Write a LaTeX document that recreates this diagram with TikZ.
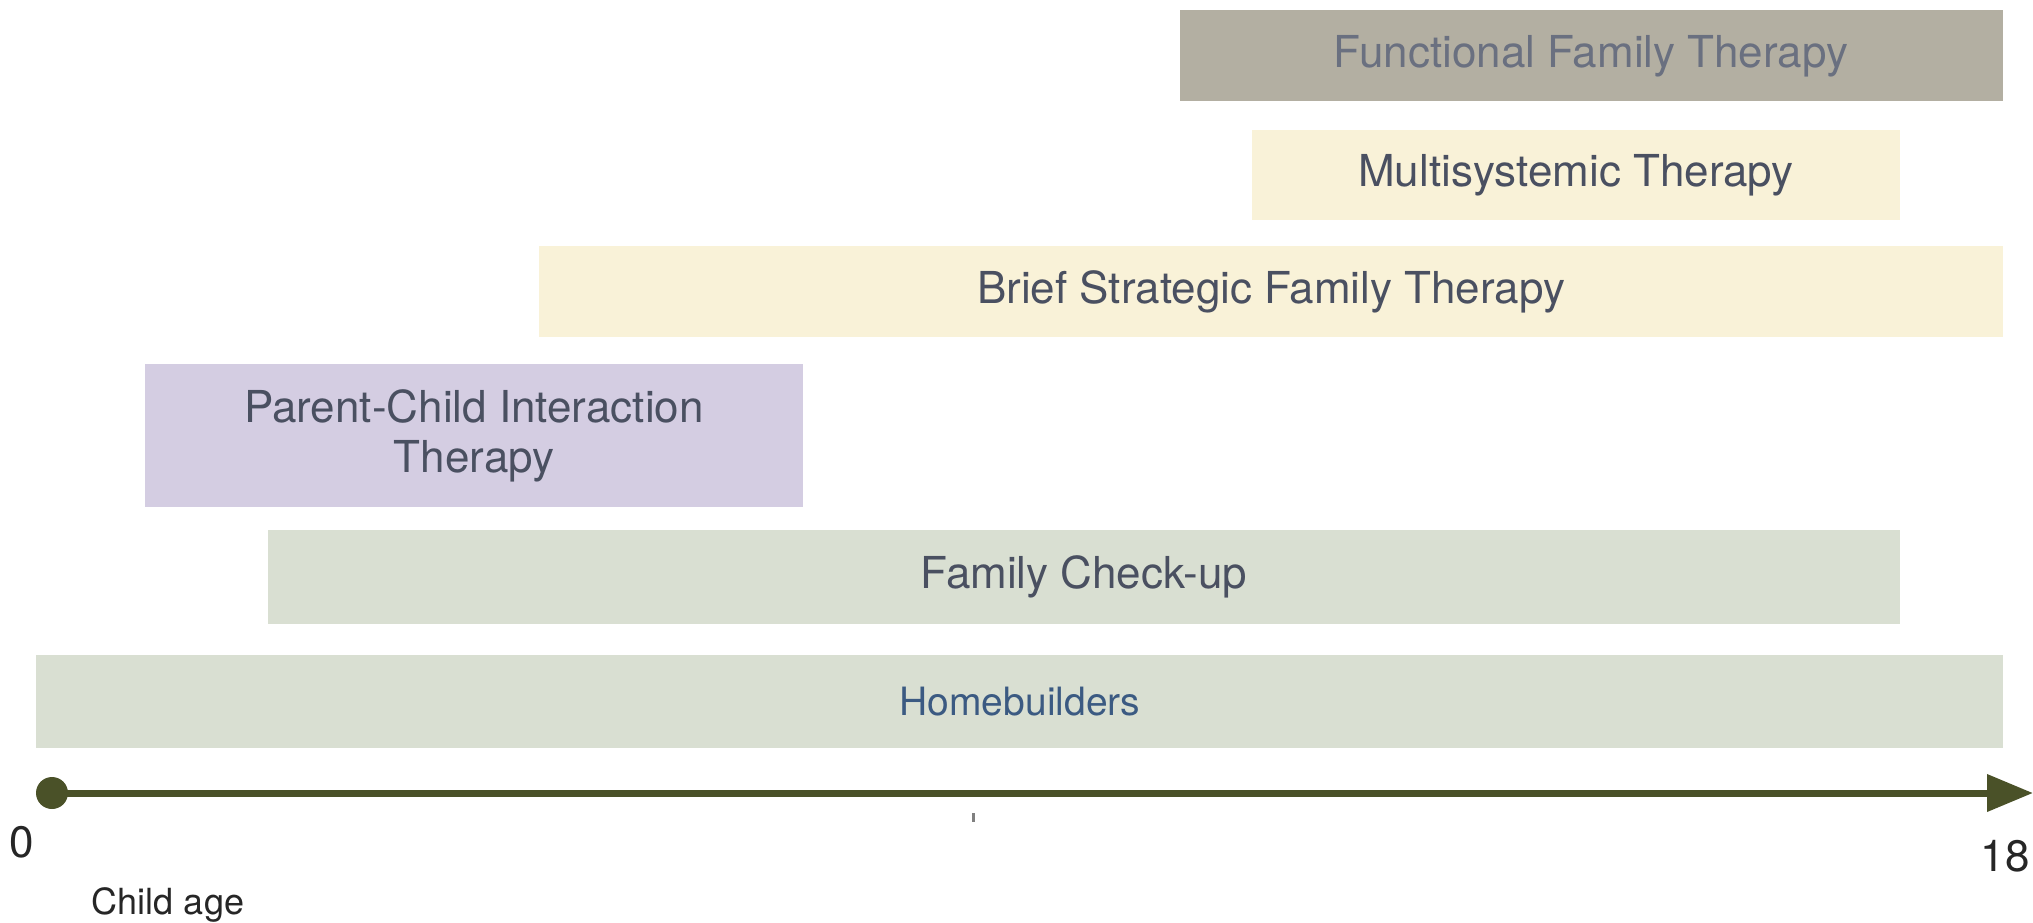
\documentclass[tikz,border=0pt]{standalone}
\usepackage{fontspec}
\setmainfont{TeX Gyre Heros}
\usetikzlibrary{arrows.meta}

\definecolor{fftgrey}{HTML}{B3AFA2}
\definecolor{cream}{HTML}{F9F2D8}
\definecolor{lavender}{HTML}{D4CDE2}
\definecolor{sage}{HTML}{D9DFD2}
\definecolor{olive}{HTML}{4A5128}
\definecolor{slate}{HTML}{4A5061}
\definecolor{fftfont}{HTML}{6A7080}
\definecolor{hbblue}{HTML}{3B5A82}

\tikzset{barlabel/.style={text=slate, font=\fontsize{44}{50}\selectfont, align=center}}

\begin{document}
\begin{tikzpicture}[x=1pt,y=-1pt]
		\useasboundingbox (0,0) rectangle (2033,922);

		\fill[fftgrey] (1180,10) rectangle (2003,101);
		\node[barlabel, text=fftfont] (fft) at (1591,56) {Functional Family Therapy};
		\fill[cream] (1252,130) rectangle (1900,220);
		\node[barlabel] (mst) at (1576,175) {Multisystemic Therapy};
		\fill[cream] (539,246) rectangle (2003,337);
		\node[barlabel] (bsft) at (1271,292) {Brief Strategic Family Therapy};
		\fill[lavender] (145,364) rectangle (803,507);
		\node[barlabel] (pcit) at (474,436) {Parent-Child Interaction\\Therapy};
		\fill[sage] (268,530) rectangle (1900,624);
		\node[barlabel] (fcu) at (1084,577) {Family Check-up};
		\fill[sage] (36,655) rectangle (2003,748);
		\node[barlabel, text=hbblue, font=\fontsize{39}{45}\selectfont] (hb) at (1020,702) {Homebuilders};

		\draw[olive, line width=7pt, -{Triangle[length=46pt,width=36pt]}] (52,793) -- (2033,793);
		\fill[olive] (52,793) circle (16pt);
		\draw[gray, line width=3pt] (973,813) -- (973,822);

		\node[text=black!85, font=\fontsize{44}{50}\selectfont] (zero) at (22,842) {0};
		\node[text=black!85, font=\fontsize{44}{50}\selectfont] (eighteen) at (2005,856) {18};
		\node[text=black!85, font=\fontsize{36}{42}\selectfont] (childage) at (168,905) {Child age};

	\end{tikzpicture}
\end{document}
